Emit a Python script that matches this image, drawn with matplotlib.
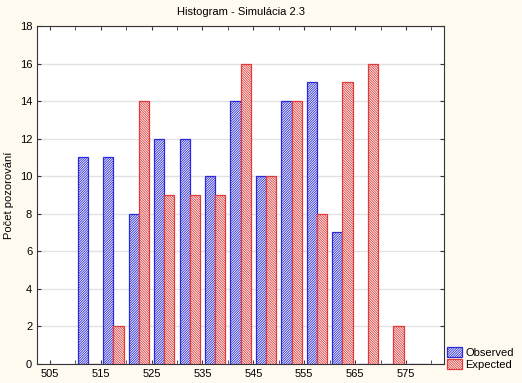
import numpy as np
import matplotlib
matplotlib.use("Agg")
import matplotlib.pyplot as plt

# stredy tried histogramu
stredy = [512.5, 517.5, 522.5, 527.5, 532.5, 537.5, 542.5, 547.5,
          552.5, 557.5, 562.5, 567.5, 572.5, 577.5]
observed = [11, 11, 8, 12, 12, 10, 14, 10, 14, 15, 7, 0, 0, 0]
expected = [0, 2, 14, 9, 9, 9, 16, 10, 14, 8, 15, 16, 2, 0]
xlabels = [505, 515, 525, 535, 545, 555, 565, 575]

plt.rcParams['font.family'] = ['Liberation Sans', 'DejaVu Sans']
plt.rcParams['hatch.linewidth'] = 0.6

fig = plt.figure(figsize=(5.22, 3.83), dpi=100, facecolor='#fffaef')
ax = fig.add_axes([0.071, 0.050, 0.780, 0.882])
ax.set_facecolor('white')

x = np.array(stredy)
w = 2.0
ax.bar(x - w / 2, observed, width=w, facecolor='white', edgecolor='#2a2ad8',
       hatch='/' * 14, linewidth=0.9, label='Observed', zorder=3)
ax.bar(x + w / 2, expected, width=w, facecolor='white', edgecolor='#e03a3a',
       hatch='\\' * 14, linewidth=0.9, label='Expected', zorder=3)

ax.set_xlim(502.5, 582.5)
ax.set_ylim(0, 18)
ax.set_xticks(xlabels)
ax.set_xticks(np.arange(505, 582, 5), minor=True)
ax.set_yticks(np.arange(0, 19, 2))
ax.tick_params(axis='both', which='both', direction='in', top=True, right=True,
               labelsize=8, length=3, color='#333333')
ax.yaxis.grid(True, color='#e2e2e2', linewidth=1, zorder=0)
for s in ax.spines.values():
    s.set_color('#333333')

ax.set_ylabel('Počet pozorování', fontsize=8)
ax.set_title('Histogram - Simulácia 2.3', fontsize=8, pad=8)

fig.legend(loc='lower left', bbox_to_anchor=(0.857, 0.035), fontsize=8,
           frameon=False, handlelength=1.3, handleheight=1.0,
           handletextpad=0.3, labelspacing=0.05, borderpad=0.0,
           borderaxespad=0.0)

fig.savefig('out.png', dpi=100, facecolor=fig.get_facecolor())
